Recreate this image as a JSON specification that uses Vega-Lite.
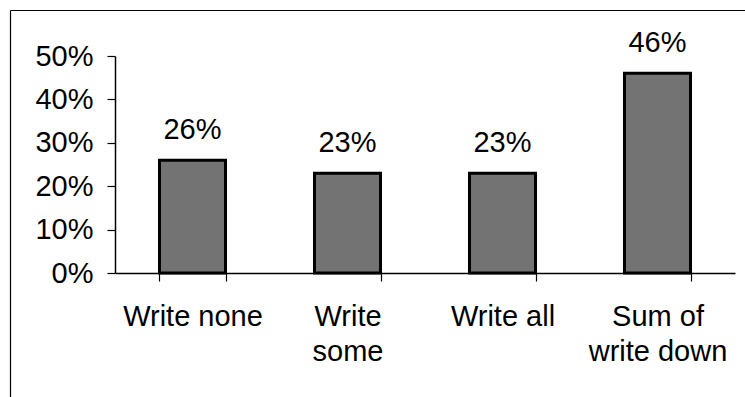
{
  "$schema": "https://vega.github.io/schema/vega-lite/v6.json",
  "autosize": "none",
  "padding": {"left": 10, "top": 10, "right": 0, "bottom": 0},
  "width": 735,
  "height": 387,
  "background": "white",
  "config": {
    "view": {"stroke": null},
    "font": "Liberation Sans",
    "axis": {"labelFont": "Liberation Sans", "labelColor": "black", "domainColor": "black", "tickColor": "black", "grid": false}
  },
  "data": {
    "values": [
      {"cat": "Write none", "v": 0.26, "lab": "26%"},
      {"cat": "Write some", "v": 0.23, "lab": "23%"},
      {"cat": "Write all", "v": 0.23, "lab": "23%"},
      {"cat": "Sum of write down", "v": 0.46, "lab": "46%"}
    ]
  },
  "layer": [
    {
      "mark": {"type": "point", "opacity": 0},
      "encoding": {
        "x": {"field": "v", "type": "quantitative", "scale": {"domain": [0, 1]},
              "axis": {"orient": "top", "labels": false, "ticks": false, "title": null, "domainWidth": 1.2}},
        "y": {"field": "v", "type": "quantitative", "scale": {"domain": [0, 1]},
              "axis": {"orient": "left", "labels": false, "ticks": false, "title": null, "domainWidth": 1.2}}
      }
    },
    {
      "layer": [
        {
          "mark": {"type": "bar", "fill": "#737373", "stroke": "black", "strokeWidth": 3},
          "encoding": {
            "x": {"field": "cat", "type": "nominal", "sort": null,
                  "scale": {"range": [105, 725], "paddingInner": 0.574, "paddingOuter": 0.287},
                  "axis": {"orient": "bottom", "offset": -124, "title": null, "labelAngle": 0,
                           "tickBand": "extent", "tickSize": 8, "labelPadding": 21,
                           "labelFontSize": 29, "labelLineHeight": 35, "labelBaseline": "top",
                           "domainWidth": 1.5, "tickWidth": 1.2,
                           "labelExpr": "datum.value == 'Write some' ? ['Write', 'some'] : datum.value == 'Sum of write down' ? ['Sum of', 'write down'] : datum.value"}},
            "y": {"field": "v", "type": "quantitative",
                  "scale": {"domain": [0, 0.5], "range": [263, 46], "nice": false},
                  "axis": {"orient": "left", "offset": -105, "title": null, "format": ".0%",
                           "values": [0, 0.1, 0.2, 0.3, 0.4, 0.5], "tickSize": 8, "labelPadding": 14,
                           "labelFontSize": 29, "domainWidth": 1.5, "tickWidth": 1.2}}
          }
        },
        {
          "mark": {"type": "text", "fontSize": 29, "font": "Liberation Sans", "color": "black", "baseline": "alphabetic", "dy": -21},
          "encoding": {
            "x": {"field": "cat", "type": "nominal", "sort": null, "band": 0.5},
            "y": {"field": "v", "type": "quantitative"},
            "text": {"field": "lab"}
          }
        }
      ]
    }
  ],
  "resolve": {"scale": {"x": "independent", "y": "independent"}, "axis": {"x": "independent", "y": "independent"}}
}
